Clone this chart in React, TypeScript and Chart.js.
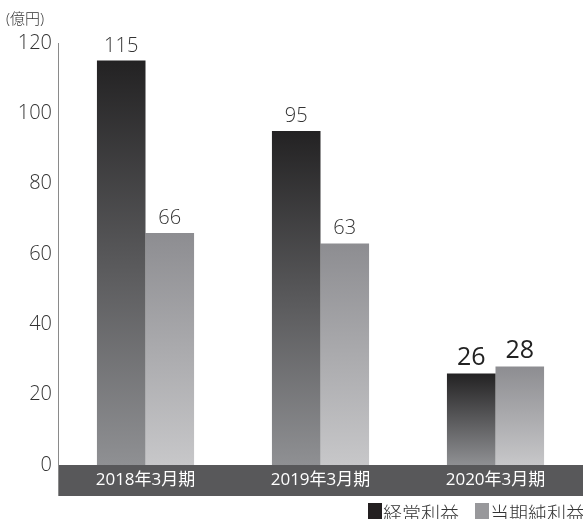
import React, { useEffect, useRef } from "react";
import { Chart, registerables } from "chart.js";

Chart.register(...registerables);

const categories = ["2018年3月期", "2019年3月期", "2020年3月期"];
const ordinaryProfit = [115, 95, 26];
const netProfit = [66, 63, 28];
const seriesNames = ["経常利益", "当期純利益"];
const yTicks = [0, 20, 40, 60, 80, 100, 120];
const unitLabel = "(億円)";

const FONT = '"Open Sans", "Noto Sans CJK JP", sans-serif';

const gradientFill = (top: string, bottom: string) => (ctx: any) => {
  const chart = ctx.chart;
  const y = chart.scales && chart.scales.y;
  if (!y || ctx.type !== "data") return bottom;
  const yTop = y.getPixelForValue(ctx.raw);
  const yBase = y.getPixelForValue(0);
  if (!isFinite(yTop) || !isFinite(yBase) || yTop === yBase) return bottom;
  const g = chart.ctx.createLinearGradient(0, yTop, 0, yBase);
  g.addColorStop(0, top);
  g.addColorStop(1, bottom);
  return g;
};

const decorPlugin = {
  id: "decor",
  beforeDraw(chart: any) {
    const { ctx, chartArea } = chart;
    const x = chart.scales.x;
    ctx.save();
    ctx.fillStyle = "#58585a";
    ctx.fillRect(chartArea.left, chartArea.bottom, chartArea.right - chartArea.left, x.bottom - chartArea.bottom);
    ctx.restore();
  },
  afterDraw(chart: any) {
    const { ctx, chartArea } = chart;
    const x = chart.scales.x;
    ctx.save();
    ctx.strokeStyle = "#8a8a8a";
    ctx.lineWidth = 1;
    ctx.beginPath();
    ctx.moveTo(chartArea.left + 0.5, chartArea.top);
    ctx.lineTo(chartArea.left + 0.5, x.bottom);
    ctx.stroke();

    // unit label
    ctx.fillStyle = "#333";
    ctx.font = `300 15px ${FONT}`;
    ctx.textAlign = "left";
    ctx.textBaseline = "middle";
    ctx.fillText(unitLabel, 6, 20);

    // value labels
    chart.data.datasets.forEach((ds: any, di: number) => {
      const meta = chart.getDatasetMeta(di);
      meta.data.forEach((bar: any, i: number) => {
        const v = ds.data[i];
        const big = i === categories.length - 1;
        ctx.font = big ? `500 25px ${FONT}` : `300 20px ${FONT}`;
        ctx.fillStyle = big ? "#222" : "#333";
        ctx.textAlign = "center";
        ctx.textBaseline = "alphabetic";
        ctx.fillText(String(v), bar.x, bar.y - 9);
      });
    });

    // legend
    ctx.font = `300 19px ${FONT}`;
    ctx.textBaseline = "alphabetic";
    ctx.textAlign = "left";
    const sw = 14;
    const gap = 1;
    const spacing = 16;
    const widths = chart.data.datasets.map((ds: any) => sw + gap + ctx.measureText(ds.label).width);
    const total = widths.reduce((a: number, b: number) => a + b, 0) + spacing * (widths.length - 1);
    let lx = chart.width - total + 2;
    const baseY = 521;
    const legendColors = ["#231f20", "#98989b"];
    chart.data.datasets.forEach((ds: any, di: number) => {
      ctx.fillStyle = legendColors[di];
      ctx.fillRect(lx, 503, sw, 17);
      ctx.fillStyle = "#333";
      ctx.fillText(ds.label, lx + sw + gap, baseY);
      lx += widths[di] + spacing;
    });
    ctx.restore();
  },
};

export default function App() {
  const ref = useRef<HTMLCanvasElement | null>(null);
  useEffect(() => {
    if (!ref.current) return;
    const chart = new Chart(ref.current, {
      type: "bar",
      data: {
        labels: categories,
        datasets: [
          {
            label: seriesNames[0],
            data: ordinaryProfit,
            backgroundColor: gradientFill("#232223", "#8f9093"),
            borderWidth: 0,
          },
          {
            label: seriesNames[1],
            data: netProfit,
            backgroundColor: gradientFill("#8d8d91", "#c7c7c9"),
            borderWidth: 0,
          },
        ],
      },
      options: {
        animation: false,
        responsive: false,
        maintainAspectRatio: false,
        layout: { padding: { top: 43, bottom: 23, left: 0, right: 0 } },
        datasets: { bar: { barPercentage: 1, categoryPercentage: 0.555 } },
        plugins: {
          legend: { display: false },
          tooltip: { enabled: false },
        },
        scales: {
          x: {
            grid: { display: false, drawTicks: false },
            border: { display: false },
            ticks: {
              color: "#ffffff",
              font: { family: FONT, size: 17, weight: "400" as any },
              padding: 5,
            },
            afterFit: (s: any) => {
              s.height = 31;
            },
          },
          y: {
            min: 0,
            max: 120,
            afterBuildTicks: (s: any) => {
              s.ticks = yTicks.map((v) => ({ value: v }));
            },
            grid: { display: false, drawTicks: false },
            border: { display: false },
            ticks: {
              color: "#333",
              font: { family: FONT, size: 20, weight: "300" as any },
              padding: 6,
            },
            afterFit: (s: any) => {
              s.width = 58;
            },
          },
        },
      },
      plugins: [decorPlugin],
    });
    return () => chart.destroy();
  }, []);
  return (
    <div style={{ position: "absolute", left: 0, top: 0, width: 583, height: 519, background: "#fff" }}>
      <canvas ref={ref} width={583} height={519} style={{ display: "block" }} />
    </div>
  );
}
